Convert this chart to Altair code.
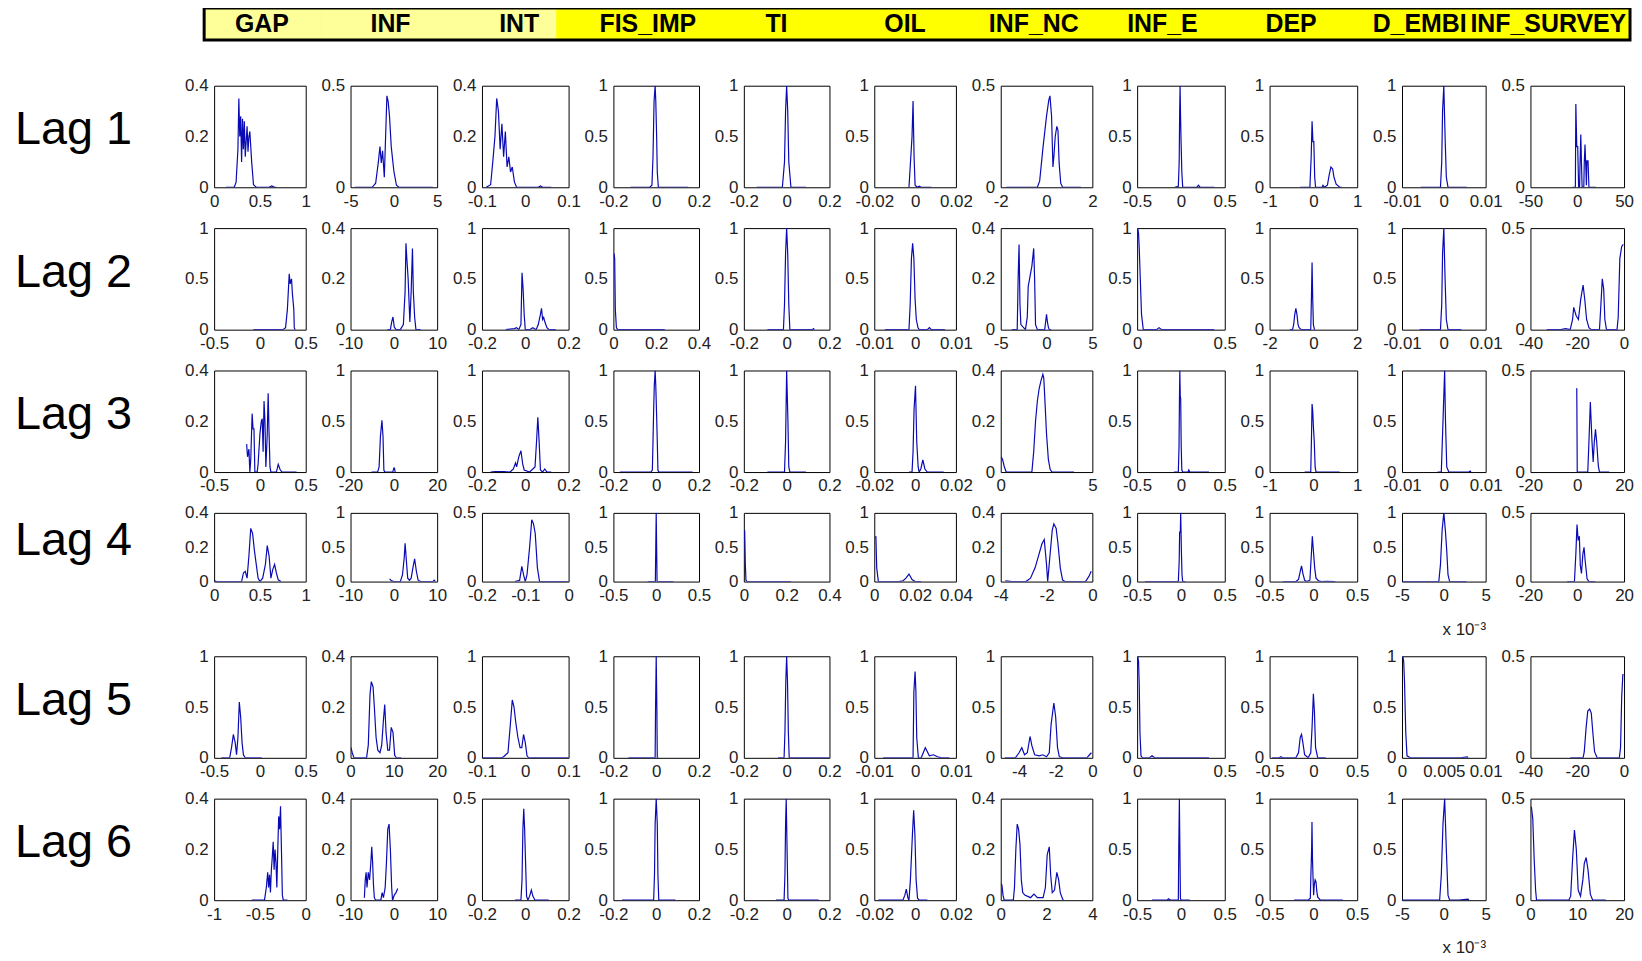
import altair as alt
import pandas as pd

FONT = "Liberation Sans, Arial, sans-serif"
BLUE = "#0a0ab4"

VARIABLES = ["GAP", "INF", "INT", "FIS_IMP", "TI", "OIL", "INF_NC", "INF_E", "DEP", "D_EMBI", "INF_SURVEY"]
HEADER_GROUP = ["light", "light", "light", "bright", "bright", "bright", "bright", "bright", "bright", "bright", "bright"]
LAG_LABELS = ["Lag 1", "Lag 2", "Lag 3", "Lag 4", "Lag 5", "Lag 6"]

# ---- axis limits / tick labels per lag (one entry per variable) ----
X_LIM_LAG1 = [[0, 1], [-5, 5], [-0.1, 0.1], [-0.2, 0.2], [-0.2, 0.2], [-0.02, 0.02], [-2, 2], [-0.5, 0.5], [-1, 1], [-0.01, 0.01], [-50, 50]]
X_TICKS_LAG1 = [[0, 0.5, 1], [-5, 0, 5], [-0.1, 0, 0.1], [-0.2, 0, 0.2], [-0.2, 0, 0.2], [-0.02, 0, 0.02], [-2, 0, 2], [-0.5, 0, 0.5], [-1, 0, 1], [-0.01, 0, 0.01], [-50, 0, 50]]
Y_TICKS_LAG1 = [[0, 0.2, 0.4], [0, 0.5], [0, 0.2, 0.4], [0, 0.5, 1], [0, 0.5, 1], [0, 0.5, 1], [0, 0.5], [0, 0.5, 1], [0, 0.5, 1], [0, 0.5, 1], [0, 0.5]]

X_LIM_LAG2 = [[-0.5, 0.5], [-10, 10], [-0.2, 0.2], [0, 0.4], [-0.2, 0.2], [-0.01, 0.01], [-5, 5], [0, 0.5], [-2, 2], [-0.01, 0.01], [-40, 0]]
X_TICKS_LAG2 = [[-0.5, 0, 0.5], [-10, 0, 10], [-0.2, 0, 0.2], [0, 0.2, 0.4], [-0.2, 0, 0.2], [-0.01, 0, 0.01], [-5, 0, 5], [0, 0.5], [-2, 0, 2], [-0.01, 0, 0.01], [-40, -20, 0]]
Y_TICKS_LAG2 = [[0, 0.5, 1], [0, 0.2, 0.4], [0, 0.5, 1], [0, 0.5, 1], [0, 0.5, 1], [0, 0.5, 1], [0, 0.2, 0.4], [0, 0.5, 1], [0, 0.5, 1], [0, 0.5, 1], [0, 0.5]]

X_LIM_LAG3 = [[-0.5, 0.5], [-20, 20], [-0.2, 0.2], [-0.2, 0.2], [-0.2, 0.2], [-0.02, 0.02], [0, 5], [-0.5, 0.5], [-1, 1], [-0.01, 0.01], [-20, 20]]
X_TICKS_LAG3 = [[-0.5, 0, 0.5], [-20, 0, 20], [-0.2, 0, 0.2], [-0.2, 0, 0.2], [-0.2, 0, 0.2], [-0.02, 0, 0.02], [0, 5], [-0.5, 0, 0.5], [-1, 0, 1], [-0.01, 0, 0.01], [-20, 0, 20]]
Y_TICKS_LAG3 = [[0, 0.2, 0.4], [0, 0.5, 1], [0, 0.5, 1], [0, 0.5, 1], [0, 0.5, 1], [0, 0.5, 1], [0, 0.2, 0.4], [0, 0.5, 1], [0, 0.5, 1], [0, 0.5, 1], [0, 0.5]]

X_LIM_LAG4 = [[0, 1], [-10, 10], [-0.2, 0], [-0.5, 0.5], [0, 0.4], [0, 0.04], [-4, 0], [-0.5, 0.5], [-0.5, 0.5], [-5, 5], [-20, 20]]
X_TICKS_LAG4 = [[0, 0.5, 1], [-10, 0, 10], [-0.2, -0.1, 0], [-0.5, 0, 0.5], [0, 0.2, 0.4], [0, 0.02, 0.04], [-4, -2, 0], [-0.5, 0, 0.5], [-0.5, 0, 0.5], [-5, 0, 5], [-20, 0, 20]]
Y_TICKS_LAG4 = [[0, 0.2, 0.4], [0, 0.5, 1], [0, 0.5], [0, 0.5, 1], [0, 0.5, 1], [0, 0.5, 1], [0, 0.2, 0.4], [0, 0.5, 1], [0, 0.5, 1], [0, 0.5, 1], [0, 0.5]]

X_LIM_LAG5 = [[-0.5, 0.5], [0, 20], [-0.1, 0.1], [-0.2, 0.2], [-0.2, 0.2], [-0.01, 0.01], [-5, 0], [0, 0.5], [-0.5, 0.5], [0, 0.01], [-40, 0]]
X_TICKS_LAG5 = [[-0.5, 0, 0.5], [0, 10, 20], [-0.1, 0, 0.1], [-0.2, 0, 0.2], [-0.2, 0, 0.2], [-0.01, 0, 0.01], [-4, -2, 0], [0, 0.5], [-0.5, 0, 0.5], [0, 0.005, 0.01], [-40, -20, 0]]
Y_TICKS_LAG5 = [[0, 0.5, 1], [0, 0.2, 0.4], [0, 0.5, 1], [0, 0.5, 1], [0, 0.5, 1], [0, 0.5, 1], [0, 0.5, 1], [0, 0.5, 1], [0, 0.5, 1], [0, 0.5, 1], [0, 0.5]]

X_LIM_LAG6 = [[-1, 0], [-10, 10], [-0.2, 0.2], [-0.2, 0.2], [-0.2, 0.2], [-0.02, 0.02], [0, 4], [-0.5, 0.5], [-0.5, 0.5], [-5, 5], [0, 20]]
X_TICKS_LAG6 = [[-1, -0.5, 0], [-10, 0, 10], [-0.2, 0, 0.2], [-0.2, 0, 0.2], [-0.2, 0, 0.2], [-0.02, 0, 0.02], [0, 2, 4], [-0.5, 0, 0.5], [-0.5, 0, 0.5], [-5, 0, 5], [0, 10, 20]]
Y_TICKS_LAG6 = [[0, 0.2, 0.4], [0, 0.2, 0.4], [0, 0.5], [0, 0.5, 1], [0, 0.5, 1], [0, 0.5, 1], [0, 0.2, 0.4], [0, 0.5, 1], [0, 0.5, 1], [0, 0.5, 1], [0, 0.5]]

# axis multiplier notes (D_EMBI in lags 4 and 6 is in units of 1e-3)
X_NOTE_LAG4 = {"D_EMBI": "x 10\u207b\u00b3"}
X_NOTE_LAG6 = {"D_EMBI": "x 10\u207b\u00b3"}

# ---- density curves (x, y) ----
GAP_L1 = [(0.13,0),(0.22,0),(0.24,0.02),(0.26,0.15),(0.27,0.35),(0.28,0.2),(0.29,0.28),(0.30,0.1),(0.31,0.27),(0.32,0.15),(0.33,0.26),(0.34,0.12),(0.36,0.24),(0.37,0.14),(0.38,0.2),(0.39,0.22),(0.41,0.1),(0.43,0.01),(0.46,0),(0.6,0),(0.63,0.005),(0.66,0),(0.68,0)]
INF_L1 = [(-4.5,0),(-2.5,0),(-2.1,0.02),(-1.8,0.12),(-1.6,0.2),(-1.45,0.12),(-1.3,0.18),(-1.1,0.05),(-0.95,0.25),(-0.8,0.45),(-0.65,0.42),(-0.5,0.35),(-0.3,0.2),(0,0.08),(0.3,0.01),(0.6,0),(4.5,0)]
INT_L1 = [(-0.09,0),(-0.08,0.01),(-0.075,0.1),(-0.07,0.2),(-0.066,0.35),(-0.062,0.3),(-0.058,0.15),(-0.054,0.25),(-0.05,0.12),(-0.046,0.22),(-0.042,0.08),(-0.038,0.12),(-0.034,0.06),(-0.03,0.08),(-0.025,0.02),(-0.02,0),(0.03,0),(0.035,0.005),(0.04,0),(0.06,0)]
FIS_IMP_L1 = [(-0.12,0),(-0.03,0),(-0.02,0.02),(-0.015,0.3),(-0.01,0.85),(-0.005,1.0),(-0.002,0.85),(0.002,0.5),(0.005,0.15),(0.01,0),(0.15,0)]
TI_L1 = [(-0.14,0),(-0.02,0),(-0.01,0.25),(-0.005,0.75),(0,1.0),(0.005,0.75),(0.01,0.25),(0.02,0),(0.09,0)]
OIL_L1 = [(-0.003,0),(-0.0015,0.5),(-0.001,0.85),(-0.0005,0.3),(0,0.02),(0.001,0),(0.002,0.01),(0.003,0),(0.008,0)]
INF_NC_L1 = [(-1.75,0),(-0.4,0),(-0.3,0.03),(-0.15,0.2),(0,0.35),(0.1,0.43),(0.15,0.45),(0.22,0.35),(0.28,0.1),(0.32,0.15),(0.38,0.25),(0.45,0.3),(0.5,0.28),(0.55,0.12),(0.62,0.02),(0.7,0),(1.5,0)]
INF_E_L1 = [(-0.07,0),(-0.03,0.01),(-0.02,0.25),(-0.015,0.72),(-0.01,1.0),(-0.005,0.72),(0,0.5),(0.01,0.15),(0.02,0),(0.18,0),(0.2,0.02),(0.22,0),(0.38,0)]
DEP_L1 = [(-0.3,0),(-0.08,0),(-0.05,0.3),(-0.03,0.65),(-0.01,0.45),(0.01,0.45),(0.03,0.1),(0.05,0),(0.2,0),(0.22,0.02),(0.25,0),(0.32,0.02),(0.36,0.12),(0.4,0.2),(0.44,0.18),(0.47,0.1),(0.52,0.03),(0.6,0),(0.65,0)]
D_EMBI_L1 = [(-0.0055,0),(-0.0008,0),(-0.0005,0.25),(-0.0003,0.75),(0,1.0),(0.0003,0.5),(0.0006,0.1),(0.001,0),(0.0055,0)]
INF_SURVEY_L1 = [(-5,0),(-2,0),(-1.5,0.41),(-0.5,0.2),(0.5,0.2),(1.5,0),(2.5,0),(3,0.12),(3.8,0.26),(4.5,0.12),(5.2,0),(7,0),(7.5,0.12),(8.3,0.21),(9,0.12),(9.8,0.01),(10.3,0.13),(11.5,0.13),(12.5,0),(20,0)]

GAP_L2 = [(-0.07,0),(0.25,0),(0.28,0.02),(0.3,0.2),(0.32,0.55),(0.33,0.45),(0.345,0.5),(0.355,0.35),(0.37,0.2),(0.375,0.02),(0.385,0)]
INF_L2 = [(-1.5,0),(-0.8,0),(-0.5,0.03),(-0.2,0.05),(0.1,0.01),(0.5,0),(1.5,0),(2.2,0.02),(2.6,0.15),(2.8,0.34),(3.0,0.28),(3.3,0.2),(3.7,0.03),(4.0,0.15),(4.3,0.32),(4.5,0.15),(4.8,0.05),(5.1,0),(6.2,0)]
INT_L2 = [(-0.09,0),(-0.05,0.01),(-0.04,0.02),(-0.03,0),(-0.02,0.05),(-0.015,0.56),(-0.01,0.4),(-0.005,0.15),(0,0),(0.02,0),(0.035,0.02),(0.05,0),(0.06,0.05),(0.07,0.15),(0.075,0.21),(0.08,0.1),(0.085,0.12),(0.09,0.08),(0.1,0.02),(0.11,0),(0.14,0)]
FIS_IMP_L2 = [(0.003,0.75),(0.006,0.7),(0.009,0.2),(0.014,0.02),(0.02,0),(0.24,0)]
TI_L2 = [(-0.09,0),(-0.015,0),(-0.01,0.25),(-0.005,0.75),(0,1.0),(0.005,0.75),(0.01,0.25),(0.015,0),(0.12,0),(0.125,0.01),(0.13,0)]
OIL_L2 = [(-0.0074,0),(-0.0015,0),(-0.0012,0.25),(-0.0009,0.7),(-0.0006,0.85),(-0.0003,0.7),(0,0.3),(0.0003,0.1),(0.0007,0.02),(0.001,0),(0.003,0),(0.0035,0.02),(0.004,0),(0.0073,0)]
INF_NC_L2 = [(-3.8,0),(-3.2,0),(-3.1,0.2),(-3.0,0.335),(-2.9,0.1),(-2.8,0.02),(-2.3,0),(-2.1,0.05),(-2.0,0.17),(-1.85,0.2),(-1.6,0.25),(-1.4,0.32),(-1.3,0.2),(-1.2,0.02),(-1.0,0),(-0.2,0),(-0.1,0.03),(0,0.06),(0.1,0.03),(0.2,0.01),(0.3,0),(0.5,0)]
INF_E_L2 = [(0.003,1.0),(0.008,0.95),(0.012,0.8),(0.018,0.5),(0.025,0.15),(0.035,0),(0.11,0),(0.125,0.02),(0.14,0),(0.44,0)]
DEP_L2 = [(-1.07,0),(-0.95,0),(-0.9,0.05),(-0.85,0.15),(-0.8,0.21),(-0.75,0.15),(-0.7,0.05),(-0.65,0.02),(-0.55,0),(-0.12,0),(-0.09,0.3),(-0.06,0.66),(-0.03,0.3),(0,0.05),(0.05,0),(0.08,0)]
D_EMBI_L2 = [(-0.0058,0),(-0.0008,0),(-0.0005,0.25),(-0.0003,0.75),(0,1.0),(0.0003,0.5),(0.0006,0.1),(0.001,0),(0.0042,0)]
INF_SURVEY_L2 = [(-33,0),(-27,0),(-25,0.005),(-23,0),(-22,0.05),(-21.5,0.11),(-20.5,0.07),(-19.5,0.05),(-18.5,0.15),(-17.5,0.22),(-16.8,0.15),(-16,0.05),(-15,0.01),(-14,0),(-10.5,0),(-10,0.1),(-9.3,0.25),(-8.7,0.2),(-8.2,0.05),(-7.5,0),(-3,0),(-2.5,0.06),(-1.8,0.35),(-1,0.41),(-0.3,0.42)]

GAP_L3 = [(-0.145,0.11),(-0.135,0.06),(-0.12,0.09),(-0.11,0),(-0.1,0.05),(-0.085,0.23),(-0.075,0.17),(-0.065,0.17),(-0.055,0),(-0.03,0),(-0.02,0.03),(0.0,0.15),(0.015,0.2),(0.025,0.21),(0.035,0.08),(0.045,0.28),(0.055,0.2),(0.065,0.02),(0.08,0.15),(0.09,0.31),(0.1,0.15),(0.11,0.02),(0.12,0),(0.18,0),(0.2,0.03),(0.22,0.01),(0.24,0),(0.4,0)]
INF_L3 = [(-10.3,0),(-7.5,0),(-6.8,0.05),(-6.2,0.35),(-5.5,0.51),(-5.0,0.35),(-4.6,0.02),(-4.2,0),(-0.5,0),(0,0.04),(0.3,0.04),(0.6,0)]
INT_L3 = [(-0.16,0),(-0.14,0.005),(-0.1,0.005),(-0.07,0),(-0.055,0.03),(-0.045,0.09),(-0.04,0.05),(-0.03,0.15),(-0.02,0.21),(-0.012,0.08),(-0.005,0.02),(0.02,0),(0.045,0.05),(0.052,0.3),(0.058,0.54),(0.064,0.3),(0.07,0.02),(0.08,0),(0.09,0.03),(0.1,0),(0.12,0)]
FIS_IMP_L3 = [(-0.17,0),(-0.025,0),(-0.018,0.02),(-0.015,0.3),(-0.012,0.6),(-0.009,0.85),(-0.005,1.0),(-0.002,0.85),(0.002,0.55),(0.005,0.3),(0.008,0.02),(0.012,0),(0.17,0)]
TI_L3 = [(-0.09,0),(-0.01,0),(-0.005,0.3),(0,1.0),(0.003,0.75),(0.006,0.5),(0.01,0.05),(0.015,0),(0.09,0)]
OIL_L3 = [(-0.003,0),(-0.0015,0),(-0.001,0.2),(-0.0005,0.62),(0.0002,0.85),(0.0008,0.3),(0.0015,0.05),(0.002,0),(0.0028,0.03),(0.0038,0.12),(0.0048,0.03),(0.006,0),(0.014,0)]
INF_NC_L3 = [(0.02,0.06),(0.1,0.05),(0.2,0.02),(0.3,0),(1.7,0),(1.8,0.08),(1.9,0.2),(2.0,0.28),(2.1,0.33),(2.2,0.36),(2.3,0.385),(2.35,0.37),(2.4,0.3),(2.5,0.15),(2.6,0.05),(2.7,0.01),(2.8,0),(4.0,0)]
INF_E_L3 = [(-0.08,0),(-0.03,0),(-0.022,0.25),(-0.017,0.72),(-0.013,1.0),(-0.008,0.75),(-0.003,0.72),(0.003,0.25),(0.01,0.02),(0.02,0),(0.08,0),(0.09,0.02),(0.1,0),(0.32,0)]
DEP_L3 = [(-0.2,0),(-0.06,0),(-0.045,0.3),(-0.03,0.67),(-0.015,0.6),(0,0.45),(0.02,0.3),(0.04,0.05),(0.06,0),(0.6,0)]
D_EMBI_L3 = [(-0.0015,0),(-0.0006,0),(-0.0004,0.25),(0,0.75),(0.0002,1.0),(0.0004,0.5),(0.0007,0.05),(0.0012,0),(0.006,0),(0.0063,0.01),(0.0065,0)]
INF_SURVEY_L3 = [(-0.5,0.41),(-0.2,0.41),(0,0),(4.5,0),(5.0,0.15),(5.6,0.345),(6.3,0.15),(6.8,0.05),(7.3,0.15),(7.8,0.21),(8.3,0.15),(9.0,0.03),(9.5,0),(13.7,0)]

GAP_L4 = [(0,0.005),(0.03,0),(0.3,0),(0.32,0.05),(0.34,0.06),(0.36,0.02),(0.38,0.15),(0.4,0.31),(0.42,0.28),(0.44,0.18),(0.46,0.1),(0.48,0.02),(0.5,0),(0.53,0.02),(0.56,0.1),(0.58,0.21),(0.6,0.15),(0.62,0.02),(0.64,0.07),(0.66,0.1),(0.68,0.05),(0.7,0.01),(0.73,0)]
INF_L4 = [(-1.0,0.04),(-0.5,0.01),(0,0),(1.5,0),(2.0,0.1),(2.4,0.35),(2.6,0.556),(2.9,0.3),(3.2,0.05),(3.6,0.02),(4.0,0.05),(4.4,0.2),(4.8,0.33),(5.2,0.15),(5.6,0.02),(6.2,0),(9,0),(9.3,0.02),(9.6,0)]
INT_L4 = [(-0.124,0),(-0.113,0.01),(-0.108,0.11),(-0.104,0.05),(-0.1,0),(-0.096,0.05),(-0.09,0.25),(-0.085,0.45),(-0.081,0.42),(-0.077,0.35),(-0.072,0.1),(-0.067,0),(-0.002,0)]
FIS_IMP_L4 = [(-0.1,0),(-0.01,0),(-0.005,0.5),(0,1.0),(0.005,0.5),(0.01,0),(0.2,0)]
TI_L4 = [(0.001,0.74),(0.004,0.74),(0.007,0.25),(0.01,0.02),(0.015,0),(0.22,0)]
OIL_L4 = [(0.0003,0.65),(0.0008,0.65),(0.0012,0.2),(0.002,0),(0.012,0),(0.014,0.01),(0.0155,0.05),(0.017,0.11),(0.0185,0.03),(0.02,0),(0.023,0)]
INF_NC_L4 = [(-3.8,0.005),(-3.5,0),(-2.9,0),(-2.7,0.02),(-2.5,0.08),(-2.35,0.15),(-2.2,0.22),(-2.1,0.245),(-2.0,0.1),(-1.95,0),(-1.85,0.15),(-1.75,0.3),(-1.68,0.336),(-1.58,0.31),(-1.5,0.22),(-1.4,0.08),(-1.3,0.01),(-1.2,0),(-0.3,0),(-0.15,0.03),(-0.05,0.06)]
INF_E_L4 = [(-0.41,0),(-0.03,0),(-0.02,0.3),(-0.015,0.72),(-0.007,0.72),(-0.003,1.0),(0.005,0.45),(0.012,0.1),(0.02,0),(0.05,0)]
DEP_L4 = [(-0.35,0),(-0.2,0),(-0.17,0.03),(-0.15,0.15),(-0.135,0.23),(-0.12,0.12),(-0.1,0.02),(-0.08,0),(-0.04,0.02),(-0.025,0.35),(-0.012,0.66),(0,0.45),(0.015,0.2),(0.03,0.05),(0.06,0.01),(0.09,0),(0.15,0.005),(0.25,0)]
D_EMBI_L4 = [(-5,0),(-0.6,0),(-0.4,0.25),(-0.2,0.75),(0,1.0),(0.2,0.72),(0.35,0.45),(0.5,0.1),(0.7,0),(2.7,0)]
INF_SURVEY_L4 = [(-4.3,0),(-1.2,0),(-0.6,0.2),(-0.1,0.415),(0.4,0.3),(0.9,0.33),(1.3,0.12),(1.8,0.06),(2.4,0.2),(2.9,0.25),(3.4,0.15),(4.2,0.02),(5,0),(7.7,0)]

GAP_L5 = [(-0.42,0),(-0.33,0),(-0.31,0.1),(-0.29,0.23),(-0.27,0.15),(-0.255,0.03),(-0.24,0.2),(-0.225,0.55),(-0.21,0.4),(-0.195,0.15),(-0.18,0.03),(-0.16,0),(0.02,0)]
INF_L5 = [(0.1,0.04),(0.4,0.02),(0.8,0),(3.7,0),(4.1,0.05),(4.5,0.25),(4.8,0.3),(5.2,0.28),(5.5,0.2),(5.9,0.08),(6.3,0.03),(6.8,0.02),(7.2,0.05),(7.6,0.15),(7.9,0.21),(8.2,0.1),(8.6,0.03),(9.0,0.03),(9.4,0.12),(9.8,0.1),(10.2,0.01),(10.6,0),(11.7,0)]
INT_L5 = [(-0.1,0),(-0.055,0),(-0.05,0.01),(-0.04,0.05),(-0.035,0.3),(-0.03,0.57),(-0.026,0.5),(-0.022,0.35),(-0.017,0.2),(-0.012,0.1),(-0.008,0.1),(-0.004,0.23),(0,0.15),(0.004,0.02),(0.008,0),(0.1,0)]
FIS_IMP_L5 = [(-0.13,0),(-0.005,0),(-0.003,0.5),(0,1.0),(0.003,0.5),(0.005,0),(0.01,0)]
TI_L5 = [(-0.04,0),(-0.012,0),(-0.008,0.25),(-0.004,0.75),(0,1.0),(0.004,0.75),(0.008,0.25),(0.012,0),(0.2,0)]
OIL_L5 = [(-0.0078,0),(-0.0005,0),(-0.0003,0.65),(0,0.85),(0.0002,0.65),(0.0004,0.2),(0.0008,0),(0.0015,0),(0.0025,0.1),(0.0035,0.02),(0.0045,0.03),(0.0055,0.01),(0.0065,0),(0.0084,0)]
INF_NC_L5 = [(-4.77,0),(-4.2,0),(-4.0,0.05),(-3.85,0.1),(-3.7,0.03),(-3.55,0.05),(-3.4,0.21),(-3.3,0.12),(-3.15,0.03),(-2.9,0.02),(-2.7,0.03),(-2.5,0.01),(-2.35,0.05),(-2.25,0.33),(-2.1,0.54),(-2.0,0.4),(-1.9,0.1),(-1.8,0.01),(-1.6,0),(-0.3,0),(-0.15,0.03),(-0.05,0.05)]
INF_E_L5 = [(0.003,1.0),(0.008,0.95),(0.012,0.72),(0.016,0.25),(0.022,0.02),(0.03,0),(0.07,0),(0.085,0.02),(0.1,0),(0.41,0)]
DEP_L5 = [(-0.47,0),(-0.39,0),(-0.37,0.01),(-0.35,0),(-0.2,0),(-0.17,0.05),(-0.15,0.2),(-0.135,0.23),(-0.12,0.15),(-0.1,0.03),(-0.06,0),(-0.03,0.05),(-0.015,0.3),(0.0,0.63),(0.012,0.45),(0.025,0.1),(0.05,0),(0.14,0)]
D_EMBI_L5 = [(0.0001,1.0),(0.0002,0.95),(0.0003,0.75),(0.00045,0.25),(0.0006,0.02),(0.001,0),(0.007,0),(0.0078,0.01),(0.0079,0)]
INF_SURVEY_L5 = [(-23,0),(-17.5,0),(-17,0.03),(-16.2,0.15),(-15.5,0.23),(-14.7,0.24),(-14,0.22),(-13.3,0.12),(-12.6,0.03),(-11.5,0),(-2,0),(-1.5,0.05),(-1,0.3),(-0.5,0.41),(-0.2,0.41)]

GAP_L6 = [(-0.59,0),(-0.45,0),(-0.43,0.05),(-0.415,0.11),(-0.405,0.05),(-0.395,0.1),(-0.385,0.03),(-0.375,0.12),(-0.365,0.17),(-0.355,0.23),(-0.345,0.12),(-0.335,0.2),(-0.325,0.15),(-0.315,0.05),(-0.305,0.2),(-0.295,0.33),(-0.285,0.28),(-0.275,0.37),(-0.265,0.2),(-0.255,0.02),(-0.245,0),(-0.2,0)]
INF_L6 = [(-6.8,0.01),(-6.6,0.08),(-6.4,0.11),(-6.2,0.05),(-5.9,0.11),(-5.6,0.08),(-5.3,0.15),(-5.1,0.21),(-4.9,0.15),(-4.7,0.06),(-4.5,0.01),(-4.2,0),(-3.0,0),(-2.7,0.03),(-2.4,0.01),(-2.0,0.05),(-1.7,0.15),(-1.4,0.28),(-1.1,0.3),(-0.8,0.2),(-0.5,0.05),(-0.3,0),(0.1,0.02),(0.5,0.03),(0.9,0.046)]
INT_L6 = [(-0.048,0),(-0.02,0),(-0.015,0.1),(-0.011,0.35),(-0.007,0.45),(-0.003,0.35),(0.001,0.2),(0.006,0.02),(0.012,0),(0.02,0.02),(0.028,0.05),(0.035,0.02),(0.045,0),(0.108,0)]
FIS_IMP_L6 = [(-0.16,0),(-0.012,0),(-0.008,0.25),(-0.005,0.75),(0,1.0),(0.005,0.75),(0.008,0.25),(0.012,0),(0.09,0)]
TI_L6 = [(-0.05,0),(-0.012,0),(-0.008,0.25),(-0.005,0.75),(-0.002,1.0),(0.002,0.5),(0.006,0.02),(0.01,0),(0.15,0)]
OIL_L6 = [(-0.018,0),(-0.006,0),(-0.005,0.05),(-0.0043,0.11),(-0.0035,0.02),(-0.003,0),(-0.0023,0.2),(-0.0013,0.65),(-0.0007,0.885),(-0.0001,0.65),(0.0005,0.2),(0.0012,0.02),(0.002,0),(0.006,0)]
INF_NC_L6 = [(0.01,0.066),(0.05,0.06),(0.1,0.02),(0.15,0),(0.55,0),(0.6,0.05),(0.66,0.2),(0.72,0.3),(0.78,0.28),(0.84,0.22),(0.9,0.08),(0.96,0.03),(1.05,0.02),(1.3,0.01),(1.45,0.024),(1.6,0.01),(1.85,0.01),(1.95,0.05),(2.03,0.18),(2.12,0.21),(2.18,0.1),(2.25,0.03),(2.35,0.04),(2.45,0.11),(2.53,0.08),(2.6,0.03),(2.68,0.01),(2.73,0)]
INF_E_L6 = [(-0.33,0),(-0.16,0),(-0.14,0.015),(-0.12,0),(-0.03,0),(-0.025,0.5),(-0.018,1.0),(-0.012,0.5),(-0.006,0.02),(0,0),(0.1,0)]
DEP_L6 = [(-0.22,0),(-0.06,0),(-0.035,0.02),(-0.03,0.2),(-0.02,0.5),(-0.016,0.77),(-0.01,0.4),(-0.003,0.2),(0.003,0.05),(0.01,0.15),(0.02,0.2),(0.03,0.18),(0.04,0.08),(0.05,0.03),(0.08,0),(0.336,0)]
D_EMBI_L6 = [(-5,0),(-0.5,0),(-0.3,0.25),(-0.1,0.75),(0.1,1.0),(0.3,0.5),(0.5,0.05),(0.7,0),(1.8,0),(2.9,0.01),(3.0,0)]
INF_SURVEY_L6 = [(0.2,0.46),(0.5,0.4),(0.8,0.2),(1.1,0.05),(1.3,0),(4.9,0),(8.2,0),(8.6,0.02),(9.0,0.2),(9.4,0.345),(9.8,0.25),(10.2,0.05),(10.7,0.02),(11.2,0.1),(11.5,0.18),(11.9,0.21),(12.3,0.15),(12.8,0.03),(13.3,0),(16.1,0)]

CURVES = [
    [GAP_L1, INF_L1, INT_L1, FIS_IMP_L1, TI_L1, OIL_L1, INF_NC_L1, INF_E_L1, DEP_L1, D_EMBI_L1, INF_SURVEY_L1],
    [GAP_L2, INF_L2, INT_L2, FIS_IMP_L2, TI_L2, OIL_L2, INF_NC_L2, INF_E_L2, DEP_L2, D_EMBI_L2, INF_SURVEY_L2],
    [GAP_L3, INF_L3, INT_L3, FIS_IMP_L3, TI_L3, OIL_L3, INF_NC_L3, INF_E_L3, DEP_L3, D_EMBI_L3, INF_SURVEY_L3],
    [GAP_L4, INF_L4, INT_L4, FIS_IMP_L4, TI_L4, OIL_L4, INF_NC_L4, INF_E_L4, DEP_L4, D_EMBI_L4, INF_SURVEY_L4],
    [GAP_L5, INF_L5, INT_L5, FIS_IMP_L5, TI_L5, OIL_L5, INF_NC_L5, INF_E_L5, DEP_L5, D_EMBI_L5, INF_SURVEY_L5],
    [GAP_L6, INF_L6, INT_L6, FIS_IMP_L6, TI_L6, OIL_L6, INF_NC_L6, INF_E_L6, DEP_L6, D_EMBI_L6, INF_SURVEY_L6],
]
X_LIMS = [X_LIM_LAG1, X_LIM_LAG2, X_LIM_LAG3, X_LIM_LAG4, X_LIM_LAG5, X_LIM_LAG6]
X_TICKS = [X_TICKS_LAG1, X_TICKS_LAG2, X_TICKS_LAG3, X_TICKS_LAG4, X_TICKS_LAG5, X_TICKS_LAG6]
Y_TICKS = [Y_TICKS_LAG1, Y_TICKS_LAG2, Y_TICKS_LAG3, Y_TICKS_LAG4, Y_TICKS_LAG5, Y_TICKS_LAG6]
X_NOTES = [{}, {}, {}, X_NOTE_LAG4, {}, X_NOTE_LAG6]

# ---- layout (sizes in px) ----
COL_WIDTHS = [92, 87, 87, 86, 86, 82, 92, 88, 88, 84, 94]
ROW_HEIGHTS = [102, 102, 102, 69, 102, 102]
LABEL_W = 155
COL_SPACING = 45
ROW_SPACING = 8
HEADER_W = 1432
HEADER_H = 32


def panel(points, xlim, xticks, yticks, width, height, note):
    df = pd.DataFrame(points, columns=["x", "y"])
    df["i"] = range(len(df))
    x_axis = alt.Axis(values=xticks, labelExpr="'' + datum.value", title=note,
                      titleAnchor="end", titleFont=FONT, titleFontSize=17,
                      titleFontWeight="normal", titlePadding=18, titleColor="#222222")
    y_axis = alt.Axis(values=yticks, labelExpr="'' + datum.value", title="")
    return alt.Chart(df).mark_line(color=BLUE, strokeWidth=1.2, clip=True).encode(
        x=alt.X("x:Q", scale=alt.Scale(domain=xlim, nice=False, zero=False), axis=x_axis),
        y=alt.Y("y:Q", scale=alt.Scale(domain=[0, yticks[-1]], nice=False, zero=False), axis=y_axis),
        order=alt.Order("i:Q"),
    ).properties(width=width, height=height)


def lag_label(text, height):
    return alt.Chart(pd.DataFrame({"lag": [text]})).mark_text(
        align="left", baseline="middle", font=FONT, fontSize=47, color="black", dy=-6
    ).encode(text="lag:N", x=alt.value(0)).properties(
        width=LABEL_W, height=height, view=alt.ViewBackground(stroke="transparent"))


rows = []
for r in range(6):
    charts = [lag_label(LAG_LABELS[r], ROW_HEIGHTS[r])]
    for c, var in enumerate(VARIABLES):
        charts.append(panel(CURVES[r][c], X_LIMS[r][c], X_TICKS[r][c], Y_TICKS[r][c],
                            COL_WIDTHS[c], ROW_HEIGHTS[r], X_NOTES[r].get(var, "")))
    rows.append(alt.hconcat(*charts, spacing=COL_SPACING, bounds="flush"))

# header bar: light-yellow cells for the first block, bright yellow for the rest
header_df = pd.DataFrame({"var": VARIABLES, "group": HEADER_GROUP})
hrect = alt.Chart(header_df).mark_rect().encode(
    x=alt.X("var:N", sort=VARIABLES, axis=None,
            scale=alt.Scale(paddingInner=0, paddingOuter=0.57, align=0)),
    color=alt.Color("group:N", scale=alt.Scale(domain=["light", "bright"], range=["#FFFF99", "#FFFF00"]), legend=None))
htext = alt.Chart(header_df).mark_text(font=FONT, fontSize=25, fontWeight="bold", color="black").encode(
    x=alt.X("var:N", sort=VARIABLES, axis=None, scale=alt.Scale(type="point", padding=0.542, align=0.414)),
    text="var:N")
hframe = alt.Chart(pd.DataFrame({"frame": [0]})).mark_rect(
    filled=False, stroke="black", strokeWidth=3, color="black"
).encode(x=alt.value(0), x2=alt.value(HEADER_W), y=alt.value(0), y2=alt.value(HEADER_H))
header_bar = alt.layer(hrect, htext, hframe).resolve_scale(x="independent").properties(
    width=HEADER_W, height=HEADER_H, view=alt.ViewBackground(stroke="transparent", fill="#FFFF00"))
spacer = alt.Chart(pd.DataFrame({"a": [""]})).mark_text().encode(text="a:N").properties(
    width=150, height=HEADER_H, view=alt.ViewBackground(stroke="transparent"))
header = alt.hconcat(spacer, header_bar, spacing=40, bounds="flush")

grid = alt.vconcat(*rows, spacing=ROW_SPACING)

chart = alt.vconcat(header, grid, spacing=34).properties(
    padding={"left": 6, "top": -4, "right": 0, "bottom": 0}, background="white"
).configure_view(
    stroke="black", strokeWidth=1
).configure_axis(
    grid=False, domain=False, ticks=False, labelFont=FONT, labelFontSize=17,
    labelColor="#222222", labelFlush=False, labelOverlap=False
).configure_axisX(labelPadding=6).configure_axisY(labelPadding=6)

chart.save("out.html", embed_options={"renderer": "svg", "actions": False})
